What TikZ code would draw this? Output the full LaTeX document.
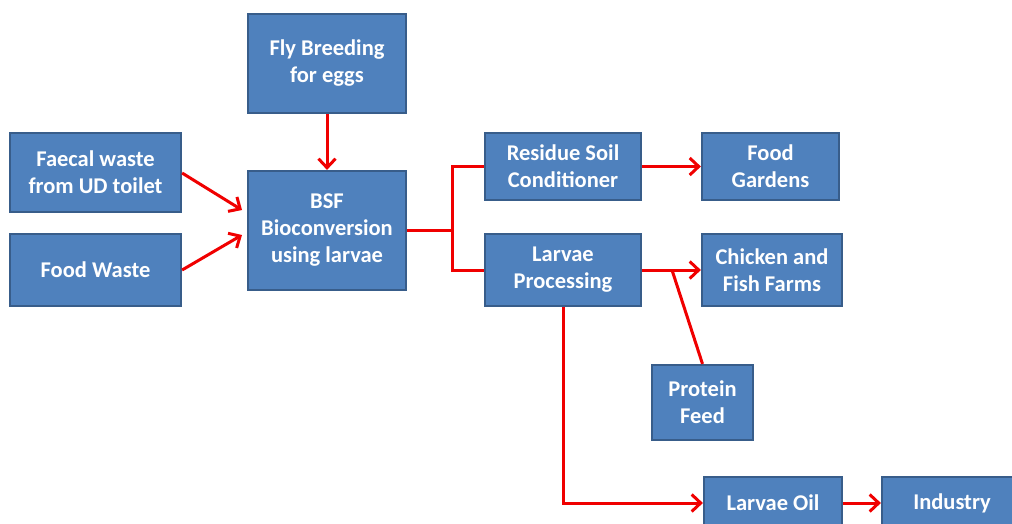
\documentclass[tikz,border=0pt]{standalone}
\usepackage{fontspec}
\setmainfont{Carlito}
\usetikzlibrary{arrows.meta}
\definecolor{boxfill}{HTML}{4F81BD}
\definecolor{boxline}{HTML}{385D8A}
\definecolor{flowred}{HTML}{F00000}
\tikzset{
  box/.style={rectangle, draw=boxline, line width=2.2pt, fill=boxfill, text=white,
    font=\fontsize{22.5}{27}\selectfont\bfseries, align=center, inner sep=0pt},
  flow/.style={draw=flowred, line width=3pt},
  flowarrow/.style={flow, -{Straight Barb[length=9pt,width=17pt,line width=3pt]}}
}
\begin{document}
\begin{tikzpicture}[x=1pt,y=-1pt]
\useasboundingbox (0,0) rectangle (1012,523);
\clip (0,0) rectangle (1012,523);
\node[box, minimum width=158, minimum height=99] (fly) at (327,63.5) {Fly Breeding\\for eggs};
\node[box, minimum width=171, minimum height=79] (faecal) at (95.5,172.5) {Faecal waste\\from UD toilet};
\node[box, minimum width=171, minimum height=72] (food) at (95.5,270) {Food Waste};
\node[box, minimum width=158, minimum height=119] (bsf) at (327,230.5) {BSF\\Bioconversion\\using larvae};
\node[box, minimum width=156, minimum height=67] (residue) at (563,166.5) {Residue Soil\\Conditioner};
\node[box, minimum width=156, minimum height=72] (larvae) at (563,270) {Larvae\\Processing};
\node[box, minimum width=137, minimum height=67] (gardens) at (770.5,166.5) {Food\\Gardens};
\node[box, minimum width=140, minimum height=72] (chicken) at (772,270) {Chicken and\\Fish Farms};
\node[box, minimum width=101, minimum height=75] (protein) at (702.5,402.5) {Protein\\Feed};
\node[box, minimum width=138, minimum height=52] (oil) at (773,503) {Larvae Oil};
\node[box, minimum width=140, minimum height=52] (industry) at (952,503) {Industry};

\coordinate (split) at (452,230.5);
\coordinate (branch) at (672,270);

\draw[flowarrow] (fly) -- (bsf);
\draw[flowarrow] (faecal.east |- 0,173) -- (242,210);
\draw[flowarrow] (food.east) -- (242,235);
\draw[flow] (bsf.east |- split) -- (split);
\draw[flow] (split) |- (residue.west);
\draw[flow] (split) |- (larvae.west);
\draw[flowarrow] (residue) -- (gardens);
\draw[flowarrow] (larvae) -- (chicken);
\draw[flow] (branch) -- (protein.north);
\draw[flowarrow] (larvae.south) |- (oil.west);
\draw[flowarrow] (oil) -- (industry);
\end{tikzpicture}
\end{document}
